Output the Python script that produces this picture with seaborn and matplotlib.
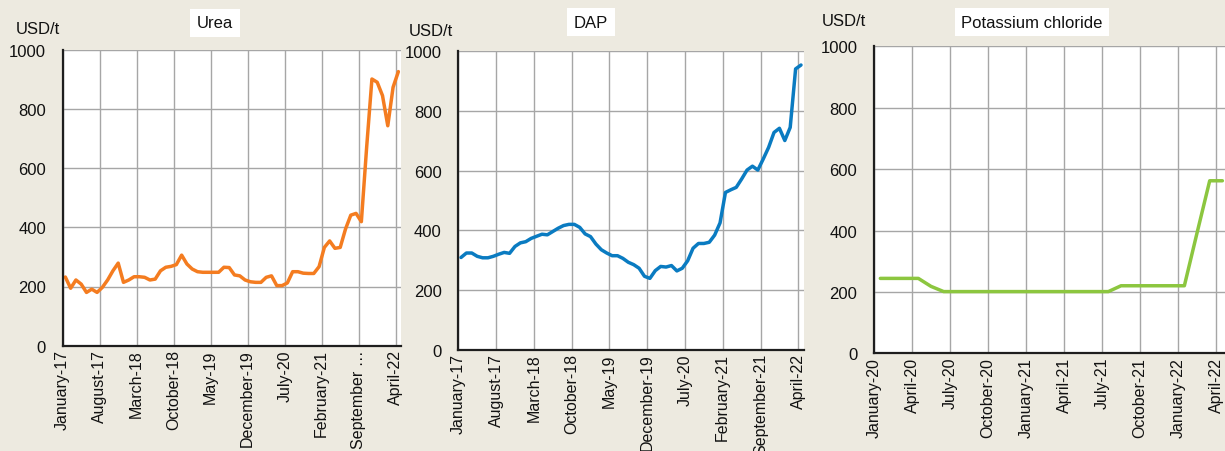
import numpy as np
import pandas as pd
import matplotlib
matplotlib.use("Agg")
import matplotlib.pyplot as plt
from matplotlib import font_manager
import seaborn as sns

# ---------------- data ----------------
urea_months = pd.date_range("2017-01-01", "2022-04-01", freq="MS")
urea_values = [232, 194, 222, 208, 180, 191, 180, 197, 222, 253,
               279, 214, 222, 233, 233, 231, 222, 225, 253, 265,
               268, 274, 306, 276, 259, 250, 248, 248, 248, 248,
               265, 264, 239, 236, 222, 216, 214, 214, 231, 236,
               203, 203, 212, 250, 250, 245, 244, 244, 267, 332,
               354, 329, 332, 394, 441, 447, 419, 670, 901, 890,
               845, 743, 873, 926]
urea_ticklabels = ["January-17", "August-17", "March-18", "October-18", "May-19",
                   "December-19", "July-20", "February-21", "September \u2026", "April-22"]

dap_months = pd.date_range("2017-01-01", "2022-04-01", freq="MS")
dap_values = [309, 324, 324, 313, 308, 308, 313, 320, 326, 323,
              346, 358, 362, 373, 380, 387, 385, 396, 407, 416,
              420, 420, 410, 388, 379, 354, 335, 324, 315, 315,
              306, 293, 285, 273, 246, 239, 265, 279, 277, 282,
              264, 273, 298, 340, 356, 356, 360, 384, 425, 527,
              536, 544, 572, 602, 615, 602, 639, 678, 728, 742,
              701, 745, 941, 954]
dap_ticklabels = ["January-17", "August-17", "March-18", "October-18", "May-19",
                  "December-19", "July-20", "February-21", "September-21", "April-22"]

kcl_months = pd.date_range("2020-01-01", "2022-04-01", freq="MS")
kcl_values = [244, 244, 244, 244, 218, 201, 201, 201, 201, 201,
              201, 201, 201, 201, 201, 201, 201, 201, 201, 220,
              220, 220, 220, 220, 220, 392, 562, 562]
kcl_ticklabels = ["January-20", "April-20", "July-20", "October-20", "January-21",
                  "April-21", "July-21", "October-21", "January-22", "April-22"]

titles = ["Urea", "DAP", "Potassium chloride"]
unit_label = "USD/t"
y_ticks = [0, 200, 400, 600, 800, 1000]

# ---------------- style ----------------
sns.set_style("white")
installed = {f.name for f in font_manager.fontManager.ttflist}
fams = [f for f in ["Liberation Sans Narrow", "Liberation Sans", "DejaVu Sans"] if f in installed]
plt.rcParams["font.family"] = fams
FS = 13 if "Liberation Sans Narrow" in installed else 12
FSX = 13 if "Liberation Sans Narrow" in installed else 11.5

BG = "#EDEAE0"
GRID = "#A6A6A6"
SPINE = "#1E1E1E"
TXT = "#111111"

W, H = 1225, 452
fig = plt.figure(figsize=(W / 100, H / 100), dpi=100, facecolor=BG)


def px_axes(left, right, top, bottom):
    return fig.add_axes([left / W, 1 - bottom / H, (right - left) / W, (bottom - top) / H])


panels = [
    dict(months=urea_months, values=urea_values, labels=urea_ticklabels, step=7,
         color="#F47C20", box=(62.7, 401.0, 50.7, 346.7), title_xy=(215, 24), unit_xy=(38, 30)),
    dict(months=dap_months, values=dap_values, labels=dap_ticklabels, step=7,
         color="#0A7BC1", box=(458.3, 803.7, 52.3, 350.7), title_xy=(591, 23), unit_xy=(431, 31)),
    dict(months=kcl_months, values=kcl_values, labels=kcl_ticklabels, step=3,
         color="#8CC63F", box=(874.0, 1228.7, 47.3, 354.3), title_xy=(1032, 23), unit_xy=(844, 22)),
]

for p, title in zip(panels, titles):
    ax = px_axes(*p["box"])
    ax.set_facecolor("white")
    n = len(p["months"])
    df = pd.DataFrame({"pos": np.arange(n) + 0.5, "value": p["values"]})
    sns.lineplot(data=df, x="pos", y="value", ax=ax, color=p["color"],
                 linewidth=2.5, solid_joinstyle="round", solid_capstyle="round", clip_on=True)
    ax.set_xlim(0, n)
    ax.set_ylim(0, 1000)
    ticks = np.arange(0, n, p["step"])
    ax.set_xticks(ticks)
    ax.set_xticklabels(p["labels"], rotation=90, fontsize=FSX, color=TXT)
    ax.set_yticks(y_ticks)
    ax.set_yticklabels([str(v) for v in y_ticks], fontsize=FS, color=TXT)
    ax.set_xlabel("")
    ax.set_ylabel("")
    ax.grid(True, color=GRID, linewidth=1.0)
    ax.set_axisbelow(True)
    for s in ["top", "right"]:
        ax.spines[s].set_visible(False)
    for s in ["left", "bottom"]:
        ax.spines[s].set_color(SPINE)
        ax.spines[s].set_linewidth(1.6)
    ax.tick_params(axis="x", direction="in", length=4, width=1.4, color=SPINE, pad=2.5)
    ax.tick_params(axis="y", direction="in", length=4, width=1.4, color=SPINE, pad=12)

    tx, ty = p["title_xy"]
    fig.text(tx / W, 1 - ty / H, title, ha="center", va="center", fontsize=FS, color=TXT,
             bbox=dict(boxstyle="square,pad=0.4", facecolor="white", edgecolor="none"))
    ux, uy = p["unit_xy"]
    fig.text(ux / W, 1 - uy / H, unit_label, ha="center", va="center", fontsize=FS, color=TXT)

fig.savefig("out.png", dpi=100, facecolor=BG)
